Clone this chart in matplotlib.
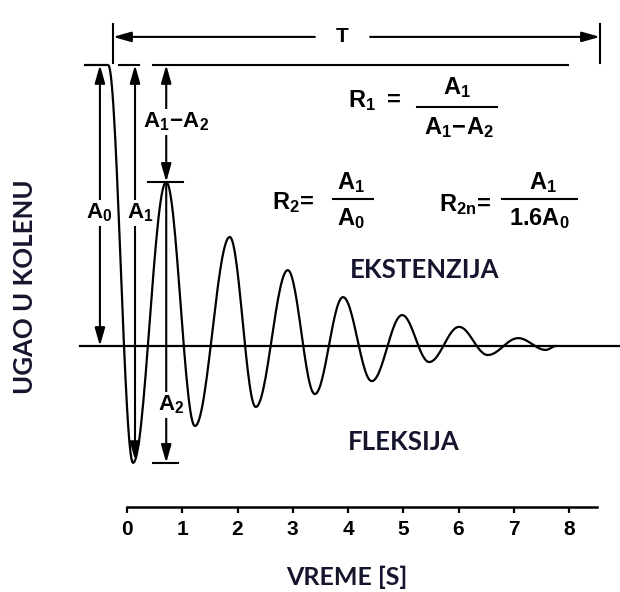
import matplotlib
matplotlib.use('Agg')
import matplotlib.pyplot as plt
import numpy as np

# ekstremi krive (vreme [s], ugao normiran na A0 = 1)
ext_t = [-0.76, -0.34, 0.11, 0.71, 1.23, 1.86, 2.33, 2.91, 3.40, 3.91,
         4.43, 4.98, 5.47, 6.01, 6.53, 7.08, 7.58, 7.76]
ext_v = [1.0, 1.0, -0.416, 0.584, -0.285, 0.388, -0.217, 0.270, -0.171, 0.174,
         -0.125, 0.110, -0.057, 0.068, -0.032, 0.028, -0.014, 0.0]

x_ticks = [0, 1, 2, 3, 4, 5, 6, 7, 8]
x_labels = ['0', '1', '2', '3', '4', '5', '6', '7', '8']

plt.rcParams['mathtext.fontset'] = 'custom'
plt.rcParams['mathtext.rm'] = 'Liberation Sans:bold'
plt.rcParams['mathtext.it'] = 'Liberation Sans:bold'

fig = plt.figure(figsize=(6.2, 5.92), dpi=100)
ax = fig.add_axes([0, 0, 1, 1])
ax.set_xlim(-127 / 55.25, 493 / 55.25)
ax.set_ylim(-246 / 281, 346 / 281)
for s in ['top', 'left', 'right']:
    ax.spines[s].set_visible(False)
ax.set_yticks([])

# kriva: glatki prelaz izmedju susednih ekstrema
xs, ys = [], []
for i in range(len(ext_t) - 1):
    u = np.linspace(0, 1, 30)
    w = (1 - np.cos(np.pi * u)) / 2
    xs.extend(ext_t[i] + (ext_t[i + 1] - ext_t[i]) * u)
    ys.extend(ext_v[i] + (ext_v[i + 1] - ext_v[i]) * w)
ax.plot(xs, ys, color='black', lw=1.6, zorder=5)

# nulta linija
ax.axhline(0, xmin=80 / 620, xmax=1, color='black', lw=1.6, zorder=4)

# vremenska osa
ax.spines['bottom'].set_position(('data', -0.573))
ax.spines['bottom'].set_bounds(0, 8.51)
ax.spines['bottom'].set_linewidth(1.8)
ax.set_xticks(x_ticks)
ax.set_xticklabels(x_labels, fontsize=15, fontweight='bold',
                   fontfamily='Liberation Sans')
ax.tick_params(axis='x', direction='out', length=4, width=1.6, pad=5)

A0 = ext_v[0]
peak = ext_v[3]
trough = ext_v[2]
t_peak = ext_t[3]

def arrow(x0, y0, x1, y1, style='-|>'):
    ax.annotate('', xy=(x1, y1), xytext=(x0, y0),
                arrowprops=dict(arrowstyle=style + ',head_length=0.6,head_width=0.17',
                                color='black', lw=1.5, shrinkA=0, shrinkB=0,
                                mutation_scale=18), zorder=3)

lbl = dict(fontsize=16, ha='center', va='center', zorder=4,
           bbox=dict(facecolor='white', edgecolor='none', pad=1))

# T
arrow(3.4, 1.10, -0.253, 1.10)
arrow(4.4, 1.10, 8.56, 1.10)
ax.plot([-0.253, -0.253], [1.146, 1.007], color='black', lw=1.5)
ax.plot([8.56, 8.56], [1.146, 1.007], color='black', lw=1.5)
ax.text(3.89, 1.10, 'T', fontsize=15, fontweight='bold', fontfamily='Liberation Sans',
        ha='center', va='center', zorder=4,
        bbox=dict(facecolor='white', edgecolor='none', pad=3))

# referentne linije
ax.plot([-0.145, 0.217], [A0, A0], color='black', lw=1.5)
ax.plot([0.47, 7.98], [A0, A0], color='black', lw=1.5)
ax.plot([0.38, 1.01], [peak, peak], color='black', lw=1.5)
ax.plot([0.47, 0.92], [trough, trough], color='black', lw=1.5)

# A0, A1
arrow(-0.49, 0.5, -0.49, A0)
arrow(-0.49, 0.5, -0.49, 0.0)
ax.text(-0.50, 0.473, r'$\mathrm{A_0}$', **lbl)
arrow(0.145, 0.3, 0.145, A0)
arrow(0.145, 0.3, 0.145, trough + 0.01)
ax.text(0.24, 0.473, r'$\mathrm{A_1}$', **lbl)

# A1-A2, A2
arrow(t_peak, 0.8, t_peak, A0)
arrow(t_peak, 0.8, t_peak, peak)
ax.text(0.88, 0.797, r'$\mathrm{A_1\!-\!A_2}$', **lbl)
arrow(t_peak, peak, t_peak, trough)
ax.text(0.80, -0.21, r'$\mathrm{A_2}$', **lbl)

# formule
fs = dict(fontsize=17, ha='center', va='center')
ax.text(4.49, 0.875, r'$\mathrm{R_1\ =}$', **fs)
ax.text(5.97, 0.918, r'$\mathrm{A_1}$', **fs)
ax.plot([5.25, 6.70], [0.851, 0.851], color='black', lw=1.5)
ax.text(6.02, 0.779, r'$\mathrm{A_1\!-\!A_2}$', **fs)

ax.text(3.02, 0.509, r'$\mathrm{R_2\!=}$', **fs)
ax.text(4.06, 0.58, r'$\mathrm{A_1}$', **fs)
ax.plot([3.73, 4.45], [0.523, 0.523], color='black', lw=1.5)
ax.text(4.06, 0.452, r'$\mathrm{A_0}$', **fs)

ax.text(6.12, 0.502, r'$\mathrm{R_{2n}\!=}$', **fs)
ax.text(7.53, 0.58, r'$\mathrm{A_1}$', **fs)
ax.plot([6.79, 8.14], [0.523, 0.523], color='black', lw=1.5)
ax.text(7.47, 0.452, r'$\mathrm{1.6A_0}$', **fs)

# natpisi
tc = '#15152e'
ax.text(5.39, 0.270, 'EKSTENZIJA', fontsize=18.5, fontweight='bold',
        fontfamily='Lato', color=tc, ha='center', va='center')
ax.text(5.0, -0.342, 'FLEKSIJA', fontsize=18.5, fontweight='bold',
        fontfamily='Lato', color=tc, ha='center', va='center')
fig.text(0.56, 0.024, 'VREME [S]', fontsize=18, fontweight='bold',
         fontfamily='Lato', color=tc, ha='center', va='center')
fig.text(0.040, 0.515, 'UGAO U KOLENU', fontsize=18.5, fontweight='bold',
         fontfamily='Lato', color=tc, ha='center', va='center', rotation=90)

fig.savefig('out.png', dpi=100)
